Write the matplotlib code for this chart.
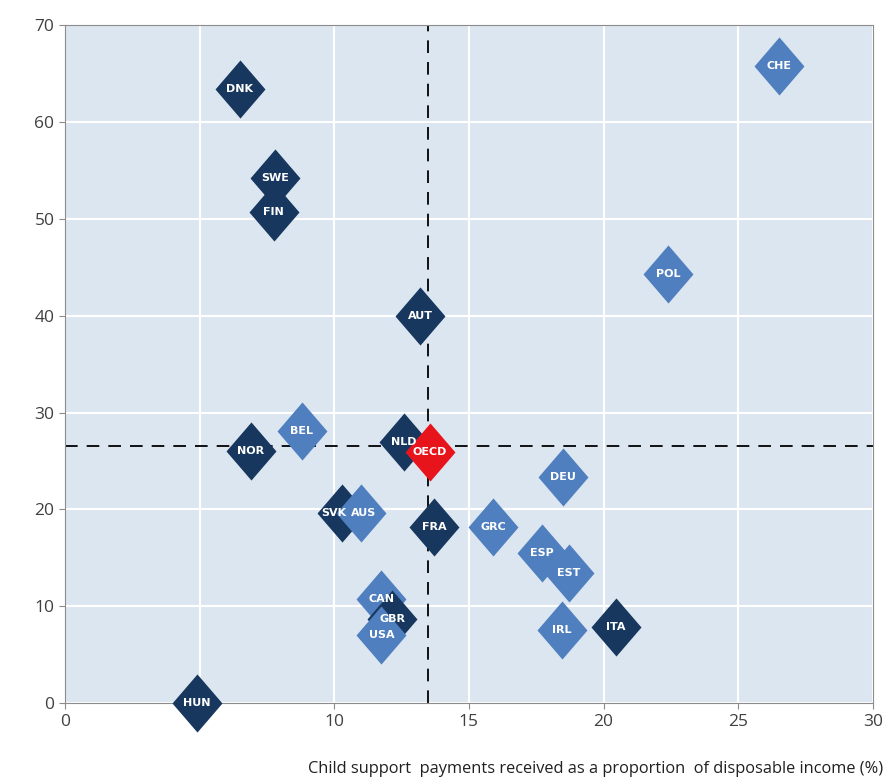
import matplotlib
matplotlib.use("Agg")
import matplotlib.pyplot as plt
from matplotlib.path import Path

# data
countries = ["DNK", "SWE", "FIN", "AUT", "CHE", "POL", "BEL", "NOR", "NLD",
             "DEU", "SVK", "AUS", "FRA", "GRC", "ESP", "EST", "CAN", "GBR",
             "USA", "IRL", "ITA", "HUN", "OECD"]
x_vals = [6.5, 7.8, 7.75, 13.2, 26.5, 22.4, 8.8, 6.9, 12.6,
          18.5, 10.3, 11.0, 13.7, 15.9, 17.7, 18.7, 11.75, 12.15,
          11.75, 18.45, 20.45, 4.9, 13.55]
y_vals = [63.4, 54.2, 50.7, 40.0, 65.8, 44.3, 28.1, 26.0, 27.0,
          23.3, 19.6, 19.6, 18.2, 18.2, 15.5, 13.4, 10.8, 8.7,
          7.0, 7.5, 7.9, 0.0, 25.9]
group = ["dark", "dark", "dark", "dark", "light", "light", "light", "dark", "dark",
         "light", "dark", "light", "dark", "light", "light", "light", "light", "dark",
         "light", "light", "dark", "dark", "avg"]
oecd_x = 13.5
oecd_y = 26.5

colors = {"dark": "#17375e", "light": "#4f7fbf", "avg": "#e8141c"}
diamond = Path([(0, 1), (0.86, 0), (0, -1), (-0.86, 0), (0, 1)],
               [Path.MOVETO, Path.LINETO, Path.LINETO, Path.LINETO, Path.CLOSEPOLY])

fig = plt.figure(figsize=(8.88, 7.83), dpi=100)
ax = fig.add_axes([0.073, 0.102, 0.910, 0.866])
ax.set_facecolor("#dce6f1")
ax.set_xlim(0, 30)
ax.set_ylim(0, 70)
ax.set_xticks(range(0, 31, 5))
ax.set_yticks(range(0, 71, 10))
ax.grid(True, color="white", linewidth=1.5)
ax.set_axisbelow(True)
for s in ax.spines.values():
    s.set_color("#8c8c8c")
ax.tick_params(colors="#8c8c8c", labelcolor="#404040", labelsize=12.5, length=4)
for lab in ax.get_xticklabels() + ax.get_yticklabels():
    lab.set_family(["Open Sans", "DejaVu Sans"])

ax.axvline(oecd_x, color="black", linestyle=(0, (7, 5)), linewidth=1.3, zorder=2)
ax.axhline(oecd_y, color="black", linestyle=(0, (7, 5)), linewidth=1.3, zorder=2)

for i, (c, xv, yv, g) in enumerate(zip(countries, x_vals, y_vals, group)):
    ax.scatter(xv, yv, s=1750, marker=diamond, color=colors[g], linewidths=0,
               zorder=3 + i * 0.01, clip_on=False)

nudge = {"SVK": -0.3, "AUS": 0.1}
for c, xv, yv in zip(countries, x_vals, y_vals):
    ax.text(xv + nudge.get(c, 0.0), yv, c, color="white", fontsize=8, ha="center",
            va="center", family="DejaVu Sans", fontweight="bold",
            zorder=10, clip_on=False)

fig.text(0.995, 0.008, "Child support  payments received as a proportion  of disposable income (%)",
         ha="right", va="bottom", fontsize=11.8, color="#202020",
         family=["Open Sans", "DejaVu Sans"])

fig.savefig("out.png", dpi=100)
